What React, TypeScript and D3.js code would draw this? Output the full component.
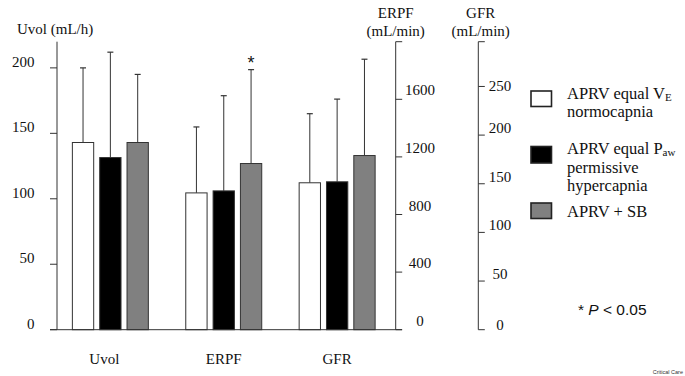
import React from "react";
import * as d3 from "d3";

const categories = ["Uvol", "ERPF", "GFR"];
const seriesNames = ["APRV equal VE normocapnia", "APRV equal Paw permissive hypercapnia", "APRV + SB"];
// means and upper error (mean + SD) per category, per series
const uvolMeans = [143, 131.5, 143];
const uvolUpper = [200, 212, 195];
const erpfMeans = [950, 964, 1154];
const erpfUpper = [1408, 1625, 1806];
const gfrMeans = [151, 152, 179];
const gfrUpper = [222, 237, 278];
const uvolTicks = [0, 50, 100, 150, 200];
const erpfTicks = [0, 400, 800, 1200, 1600];
const gfrTicks = [0, 50, 100, 150, 200, 250];
const fills = ["#ffffff", "#000000", "#808080"];

const W = 685;
const H = 376;
const serif = "Liberation Serif, Times New Roman, serif";
const sans = "Liberation Sans, Arial, sans-serif";
const axisColor = "#333";
const ts = { fontFamily: serif, fontSize: 15 } as React.CSSProperties;
const ls = { fontFamily: serif, fontSize: 16.5 } as React.CSSProperties;

export default function App() {
  const y0 = 329.7;
  const yTop = 41.7;
  const yUvol = d3.scaleLinear().domain([0, 220]).range([y0, yTop]);
  const yErpf = d3.scaleLinear().domain([0, 2000]).range([y0, yTop]);
  const yGfr = d3.scaleLinear().domain([0, 296]).range([y0, yTop]);
  const scales = [yUvol, yErpf, yGfr];
  const means = [uvolMeans, erpfMeans, gfrMeans];
  const uppers = [uvolUpper, erpfUpper, gfrUpper];

  const xGroup = d3.scaleBand().domain(categories).range([56.5, 391]).paddingInner(0.33).paddingOuter(0.14);
  const xSub = d3.scaleBand().domain(["0", "1", "2"]).range([0, xGroup.bandwidth()]).paddingInner(0.22);

  const leftX = 57;
  const erpfX = 395.7;
  const gfrX = 478.3;

  return (
    <svg width={W} height={H} style={{ position: "absolute", left: 0, top: 0, background: "#fff" }}>
      {/* bars */}
      {categories.map((c, ci) => (
        <g key={c}>
          {means[ci].map((m, si) => {
            const x = (xGroup(c) as number) + (xSub(String(si)) as number);
            const bw = xSub.bandwidth();
            const s = scales[ci];
            const cx = x + bw / 2;
            return (
              <g key={si}>
                <line x1={cx} x2={cx} y1={s(m)} y2={s(uppers[ci][si])} stroke={axisColor} strokeWidth={1} />
                <line x1={cx - 3} x2={cx + 3} y1={s(uppers[ci][si])} y2={s(uppers[ci][si])} stroke={axisColor} strokeWidth={1.2} />
                <rect x={x} y={s(m)} width={bw} height={y0 - s(m)} fill={fills[si]} stroke={axisColor} strokeWidth={1} />
              </g>
            );
          })}
          <text x={(xGroup(c) as number) + xGroup.bandwidth() / 2 - (ci === 0 ? 6 : 0)} y={364} style={ts} textAnchor="middle" fill="#111">
            {c}
          </text>
        </g>
      ))}
      {/* asterisk */}
      <text x={(xGroup("ERPF") as number) + (xSub("2") as number) + xSub.bandwidth() / 2} y={69} style={{ fontFamily: sans, fontSize: 18 }} textAnchor="middle" fill="#111">*</text>

      {/* baseline */}
      <line x1={50} x2={402} y1={y0} y2={y0} stroke={axisColor} strokeWidth={1} />

      {/* left axis */}
      <line x1={leftX} x2={leftX} y1={yTop} y2={y0} stroke={axisColor} strokeWidth={1} />
      {uvolTicks.map((t) => (
        <g key={t}>
          <line x1={50} x2={leftX} y1={yUvol(t)} y2={yUvol(t)} stroke={axisColor} />
          <text x={34.5} y={yUvol(t) - 1} style={ts} textAnchor="end" fill="#111">{t}</text>
        </g>
      ))}
      <text x={17} y={34} style={ts} fill="#111">Uvol (mL/h)</text>

      {/* ERPF axis */}
      <line x1={erpfX} x2={erpfX} y1={yTop} y2={y0} stroke={axisColor} />
      <line x1={erpfX} x2={erpfX + 6.5} y1={yTop} y2={yTop} stroke={axisColor} />
      {erpfTicks.map((t) => (
        <g key={t}>
          <line x1={erpfX} x2={erpfX + 6.5} y1={yErpf(t)} y2={yErpf(t)} stroke={axisColor} />
          <text x={420} y={yErpf(t) - 4} style={ts} textAnchor="middle" fill="#111">{t}</text>
        </g>
      ))}
      <text x={erpfX} y={18} style={ts} textAnchor="middle" fill="#111">ERPF</text>
      <text x={erpfX} y={36} style={ts} textAnchor="middle" fill="#111">(mL/min)</text>

      {/* GFR axis */}
      <line x1={gfrX} x2={gfrX} y1={yTop} y2={y0} stroke={axisColor} />
      <line x1={gfrX} x2={gfrX + 6.5} y1={yTop} y2={yTop} stroke={axisColor} />
      {gfrTicks.map((t) => (
        <g key={t}>
          <line x1={gfrX} x2={gfrX + 6.5} y1={yGfr(t)} y2={yGfr(t)} stroke={axisColor} />
          <text x={500} y={yGfr(t) + 5 - (t === 0 ? 5 : t === 250 ? 0 : 7)} style={ts} textAnchor="middle" fill="#111">{t}</text>
        </g>
      ))}
      <text x={480.7} y={18} style={ts} textAnchor="middle" fill="#111">GFR</text>
      <text x={480.7} y={36} style={ts} textAnchor="middle" fill="#111">(mL/min)</text>

      {/* legend */}
      <rect x={531} y={91} width={20.5} height={15.5} fill={fills[0]} stroke="#222" strokeWidth={1.6} />
      <text x={567} y={99} style={ls} fill="#111">APRV equal V<tspan style={{ fontSize: 11 }} dy={2}>E</tspan></text>
      <text x={567} y={117} style={ls} fill="#111">normocapnia</text>

      <rect x={531} y={146.5} width={20.5} height={16.5} fill={fills[1]} stroke="#222" strokeWidth={1.6} />
      <text x={567} y={154} style={ls} fill="#111">APRV equal P<tspan style={{ fontSize: 11 }} dy={2}>aw</tspan></text>
      <text x={567} y={172.5} style={ls} fill="#111">permissive</text>
      <text x={567} y={191} style={ls} fill="#111">hypercapnia</text>

      <rect x={531} y={203} width={20.5} height={15.5} fill={fills[2]} stroke="#222" strokeWidth={1.6} />
      <text x={567} y={217} style={ls} fill="#111">{seriesNames[2]}</text>

      <text x={578} y={315} style={{ fontFamily: sans, fontSize: 15.5 }} fill="#111">
        * <tspan style={{ fontStyle: "italic" }}>P</tspan> &lt; 0.05
      </text>
      <text x={683} y={374} style={{ fontFamily: sans, fontSize: 5.5 }} textAnchor="end" fill="#333">Critical Care</text>
    </svg>
  );
}
